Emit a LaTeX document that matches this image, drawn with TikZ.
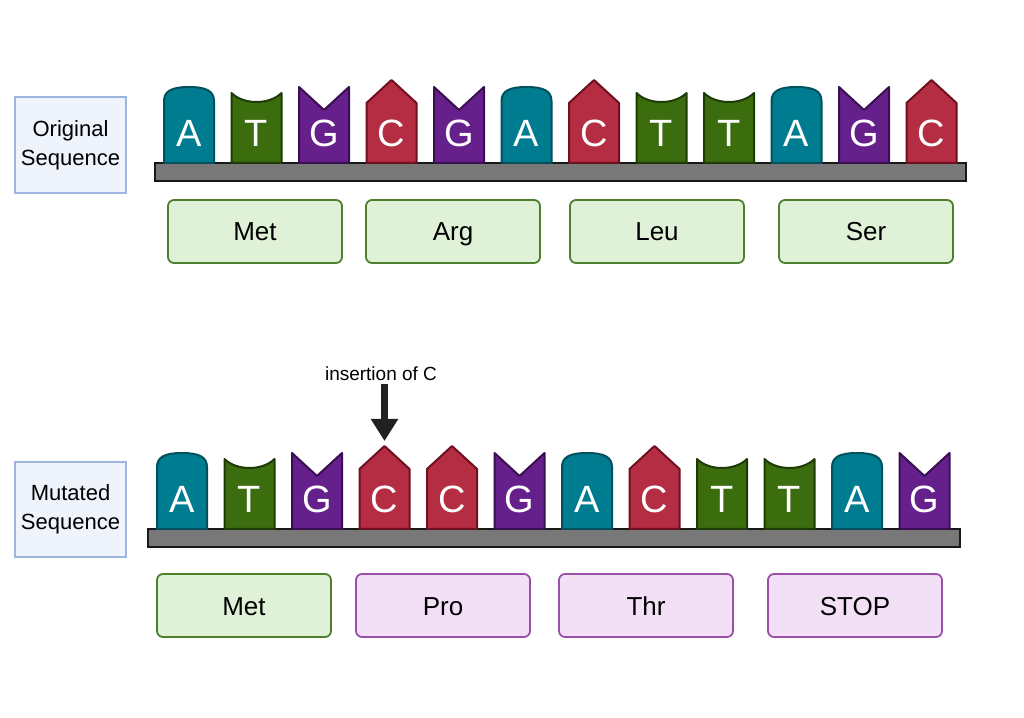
\documentclass[tikz,border=0pt]{standalone}
\usepackage{fontspec}
\setmainfont{Liberation Sans}
\usetikzlibrary{arrows.meta}

\definecolor{colA}{HTML}{007C91}
\definecolor{colAd}{HTML}{00505E}
\definecolor{colT}{HTML}{3B6D0E}
\definecolor{colTd}{HTML}{1E3A06}
\definecolor{colG}{HTML}{66208C}
\definecolor{colGd}{HTML}{3A0F52}
\definecolor{colC}{HTML}{B52D42}
\definecolor{colCd}{HTML}{6E1020}
\definecolor{seqfill}{HTML}{EEF3FC}
\definecolor{seqline}{HTML}{9DB6E0}
\definecolor{okfill}{HTML}{DFF2D8}
\definecolor{okline}{HTML}{4E7F2E}
\definecolor{badfill}{HTML}{F3E0F7}
\definecolor{badline}{HTML}{9A4FA8}

\tikzset{
  ntside/.style={line width=2pt, line join=round},
  ntA/.pic={\draw[ntside,fill=colA,draw=colAd] (0,0) -- (0,62) .. controls (0,72) and (8,76) .. (25,76) .. controls (42,76) and (50,72) .. (50,62) -- (50,0) -- cycle;},
  ntT/.pic={\draw[ntside,fill=colT,draw=colTd] (0,0) -- (0,70) .. controls (12,58) and (38,58) .. (50,70) -- (50,0) -- cycle;},
  ntG/.pic={\draw[ntside,fill=colG,draw=colGd] (0,0) -- (0,76) -- (25,53) -- (50,76) -- (50,0) -- cycle;},
  ntC/.pic={\draw[ntside,fill=colC,draw=colCd] (0,0) -- (0,60) -- (25,83) -- (50,60) -- (50,0) -- cycle;},
  letter/.style={anchor=base, text=white, font=\fontsize{38}{40}\selectfont, inner sep=0pt},
  backbone/.style={draw=black!90, fill=black!53, line width=2.5pt},
  seqbox/.style={draw=seqline, fill=seqfill, line width=1.5pt, minimum width=111pt, minimum height=96pt, align=center, font=\fontsize{22}{29}\selectfont},
  aabox/.style={rounded corners=6pt, line width=1.8pt, minimum width=174pt, minimum height=63pt, text height=22pt, text depth=3pt, font=\fontsize{26}{28}\selectfont},
  aaok/.style={aabox, draw=okline, fill=okfill},
  aabad/.style={aabox, draw=badline, fill=badfill},
  insarrow/.style={draw=black!87, line width=7pt, -{Triangle[length=22pt,width=26pt]}}
}

\begin{document}
\begin{tikzpicture}[x=1pt,y=1pt]
    \useasboundingbox (0,0) rectangle (1024,717);

    % original sequence
    \node[seqbox] (orig) at (70.5,572) {Original\\Sequence};
    \draw[backbone] (155,536) rectangle (966,554);
    \foreach \l [count=\i from 0] in {A,T,G,C,G,A,C,T,T,A,G,C} {
        \pic at ({164+67.5*\i},554) {nt\l};
        \node[letter] (o\i) at ({189+67.5*\i},570) {\l};
    }
    \node[aaok] (oMet) at (255,485.5) {Met};
    \node[aaok] (oArg) at (453,485.5) {Arg};
    \node[aaok] (oLeu) at (657,485.5) {Leu};
    \node[aaok] (oSer) at (866,485.5) {Ser};

    % mutated sequence
    \node[seqbox, minimum height=95pt] (mut) at (70.5,207.5) {Mutated\\Sequence};
    \draw[backbone] (148,170) rectangle (960,188);
    \foreach \l [count=\i from 0] in {A,T,G,C,C,G,A,C,T,T,A,G} {
        \pic at ({157+67.5*\i},188) {nt\l};
        \node[letter] (m\i) at ({182+67.5*\i},204) {\l};
    }
    \node[aaok] (mMet) at (244,111.5) {Met};
    \node[aabad] (mPro) at (443,111.5) {Pro};
    \node[aabad] (mThr) at (646,111.5) {Thr};
    \node[aabad] (mStop) at (855,111.5) {STOP};

    % insertion
    \node[font=\fontsize{19}{21}\selectfont, inner sep=1pt] (ins) at (381,343) {insertion of C};
    \coordinate (cins) at (384.5,276);
    \draw[insarrow] (cins |- ins.south) ++(0,-2) -- (cins);
\end{tikzpicture}
\end{document}
